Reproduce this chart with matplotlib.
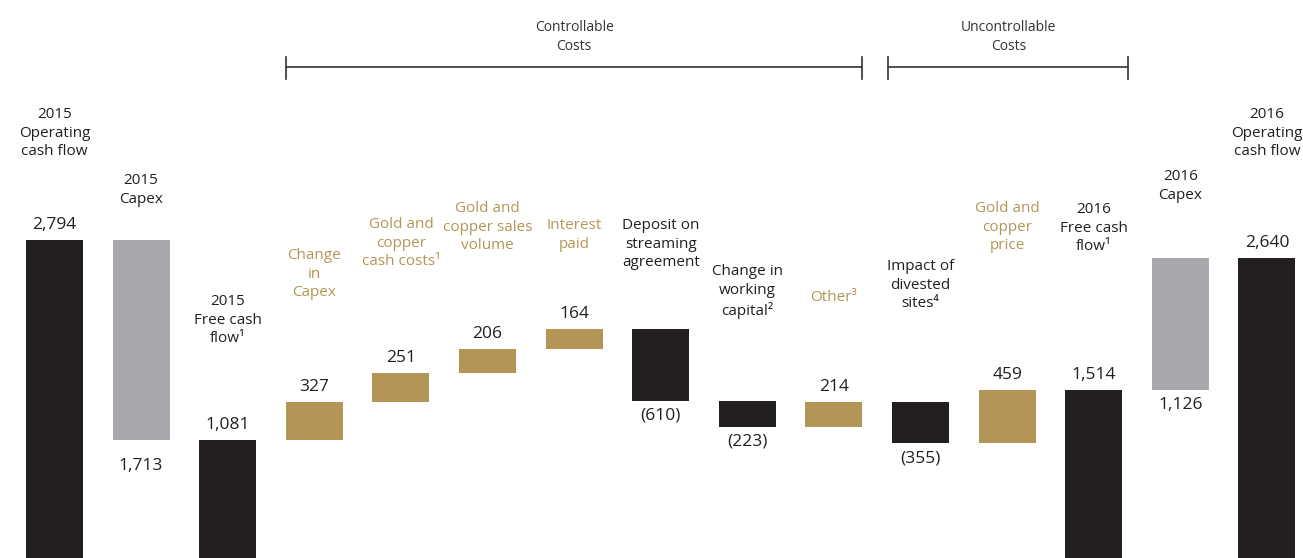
import matplotlib.pyplot as plt

# Waterfall data (US$ millions)
categories = [
    "2015\nOperating\ncash flow", "2015\nCapex", "2015\nFree cash\nflow\u00b9",
    "Change\nin\nCapex", "Gold and\ncopper\ncash costs\u00b9", "Gold and\ncopper sales\nvolume",
    "Interest\npaid", "Deposit on\nstreaming\nagreement", "Change in\nworking\ncapital\u00b2",
    "Other\u00b3", "Impact of\ndivested\nsites\u2074", "Gold and\ncopper\nprice",
    "2016\nFree cash\nflow\u00b9", "2016\nCapex", "2016\nOperating\ncash flow",
]
values = [2794, -1713, 1081, 327, 251, 206, 164, -610, -223, 214, -355, 459, 1514, 1126, 2640]
kinds = ["total", "capex", "total", "delta", "delta", "delta", "delta", "delta", "delta",
         "delta", "delta", "delta", "total", "capex", "total"]
groups = [("Controllable\nCosts", 3, 9), ("Uncontrollable\nCosts", 10, 12)]

# layout: pixel y of the first line of each category label
label_top_px = [114, 180, 301, 255, 224, 208, 225, 225, 271, 297, 266, 208, 209, 176, 114]

BLACK = "#231f20"
GOLD = "#b39656"
GREY = "#a7a9ac"
W, H = 1303, 558

plt.rcParams['font.family'] = ['Open Sans', 'DejaVu Sans']

fig = plt.figure(figsize=(W / 100, H / 100), dpi=100)
ax = fig.add_axes([0, 0, 1, 1])
ax.set_xlim(-0.629, 14.417)
ax.set_ylim(73.6, 4847)
ax.axis('off')

width = 0.658
running = 0
for i, (v, k) in enumerate(zip(values, kinds)):
    if k == "total":
        bottom, top = 0, v
        running = v
        color = BLACK
    elif k == "capex":
        if v < 0:
            top, bottom = running, running + v
            running = bottom
        else:
            bottom, top = running, running + v
            running = top
        color = GREY
    else:
        if v >= 0:
            bottom, top = running, running + v
            color = GOLD
        else:
            top, bottom = running, running + v
            color = BLACK
        running += v
    ax.bar(i, top - bottom, bottom=bottom, width=width, color=color, linewidth=0)

    txt = f"{abs(v):,}"
    if k == "delta" and v < 0:
        txt = f"({abs(v):,})"
    # value label above the bar, or below for reductions / capex
    if v < 0 or k == "capex":
        off = -13 if (k == "capex" and v < 0) else -5
        ax.annotate(txt, (i, bottom), xytext=(0, off), textcoords='offset points',
                    ha='center', va='top', fontsize=12.5, color=BLACK)
    else:
        ax.annotate(txt, (i, top), xytext=(0, 5), textcoords='offset points',
                    ha='center', va='bottom', fontsize=12.5, color=BLACK)

    lab_color = GOLD if (k == "delta" and v >= 0) else BLACK
    fig.text((54.5 + 86.6 * i) / W, 1 - (label_top_px[i] - 7) / H, categories[i],
             ha='center', va='top', fontsize=11, color=lab_color, linespacing=1.32)

# brackets over the cost groups
for name, start, end in groups:
    x0 = start - width / 2
    x1 = end + width / 2
    if start == 10:
        x0 = start - 0.37
        x1 = end + 0.4
    y = 4270
    ax.plot([x0, x1], [y, y], color='#333333', lw=1.2, clip_on=False)
    ax.plot([x0, x0], [y - 100, y + 90], color='#333333', lw=1.2)
    ax.plot([x1, x1], [y - 100, y + 90], color='#333333', lw=1.2)
    ax.text((x0 + x1) / 2, 4530, name, ha='center', va='center', fontsize=10,
            color='#333333', linespacing=1.3)

fig.savefig("out.png", dpi=100)
